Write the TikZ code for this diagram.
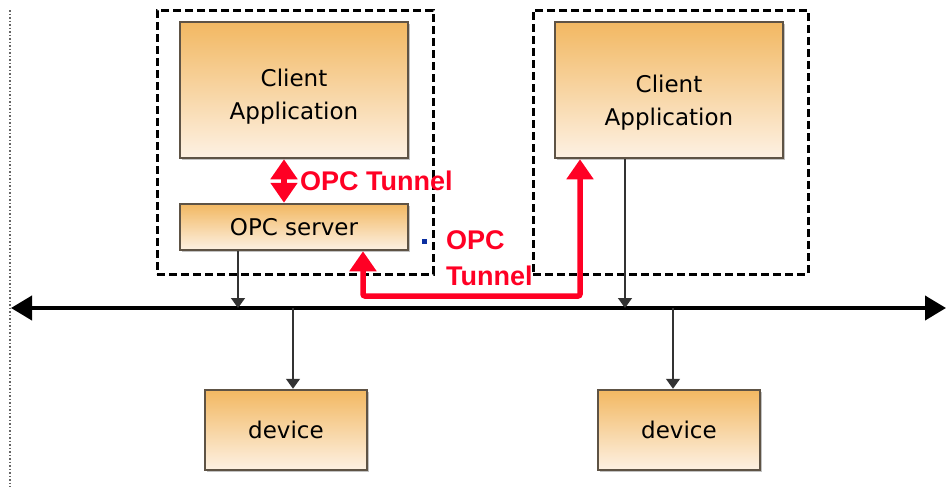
\documentclass[tikz,border=0pt]{standalone}
\usepackage{fontspec}
\setmainfont{DejaVu Sans}
\newfontfamily\tunnelfont{Liberation Sans}
\usetikzlibrary{arrows.meta,shadows}

\definecolor{boxtop}{HTML}{F2B862}
\definecolor{boxbot}{HTML}{FDF1E3}
\definecolor{boxline}{HTML}{5E5345}
\definecolor{tunnelred}{HTML}{FF0024}
\definecolor{dotblue}{HTML}{0B2FA0}

\begin{document}
\begin{tikzpicture}[
  x=1pt, y=-1pt,
  box/.style={draw=boxline, line width=2.5pt, top color=boxtop, bottom color=boxbot,
              inner sep=0pt, align=center, font=\fontsize{23}{33}\selectfont,
              drop shadow={shadow xshift=2pt, shadow yshift=-2pt, fill=black!40, opacity=0.6}},
  group/.style={draw, line width=3pt, dash pattern=on 8pt off 4pt, inner sep=0pt},
  link/.style={draw=black!80, line width=1.5pt, -{Triangle[width=14pt,length=10pt]}},
  bus/.style={line width=4pt, {Triangle[width=24pt,length=21pt]}-{Triangle[width=24pt,length=21pt]}},
  tunnel/.style={draw=tunnelred, line width=5.5pt, rounded corners=2pt,
                 {Triangle[width=26pt,length=20pt]}-{Triangle[width=26pt,length=20pt]}},
  tlabel/.style={text=tunnelred, font=\tunnelfont\bfseries\fontsize{27}{36}\selectfont,
                 inner sep=0pt, align=left}
]
\useasboundingbox (0,0) rectangle (946,491);

% left edge
\draw[black!60, line width=1.5pt, dotted] (10,10) -- (10,487);

% host groups
\node[group, minimum width=276pt, minimum height=264pt] (grp1) at (295,142) {};
\node[group, minimum width=275pt, minimum height=264pt] (grp2) at (670.5,142) {};

% boxes
\node[box, minimum width=228pt, minimum height=136pt, text height=64pt] (ca1) at (294,90) {Client\\Application};
\node[box, minimum width=228pt, minimum height=46pt] (srv) at (294,227) {OPC server};
\node[box, minimum width=228pt, minimum height=136pt, text height=75pt] (ca2) at (669,90) {Client\\Application};
\node[box, minimum width=162pt, minimum height=80pt] (dev1) at (286,430) {device};
\node[box, minimum width=162pt, minimum height=80pt] (dev2) at (679,430) {device};

% network bus
\coordinate (busL) at (11,308);
\coordinate (busR) at (946,308);
\draw[bus] (busL) -- (busR);

\coordinate (t1) at (238,308);
\coordinate (t2) at (625,308);
\coordinate (t3) at (293,308);
\coordinate (t4) at (673,308);
\draw[link] (srv.south -| t1) -- (t1);
\draw[link] (ca2.south -| t2) -- (t2);
\draw[link] (t3) -- (dev1.north -| t3);
\draw[link] (t4) -- (dev2.north -| t4);

% tunnels
\coordinate (up) at (284,0);
\draw[tunnel] (ca1.south -| up) -- (srv.north -| up);
\node[tlabel, anchor=west] (lbl1) at (300,181) {OPC Tunnel};

\coordinate (lowL) at (363,296);
\coordinate (lowR) at (580,296);
\draw[tunnel] (srv.south -| lowL) -- (lowL) -- (lowR) -- (ca2.south -| lowR);
\node[tlabel, anchor=west] (lbl2) at (446,258) {OPC\\Tunnel};

\node[fill=dotblue, minimum size=5pt, inner sep=0pt] (dot) at (424,241) {};
\end{tikzpicture}
\end{document}
